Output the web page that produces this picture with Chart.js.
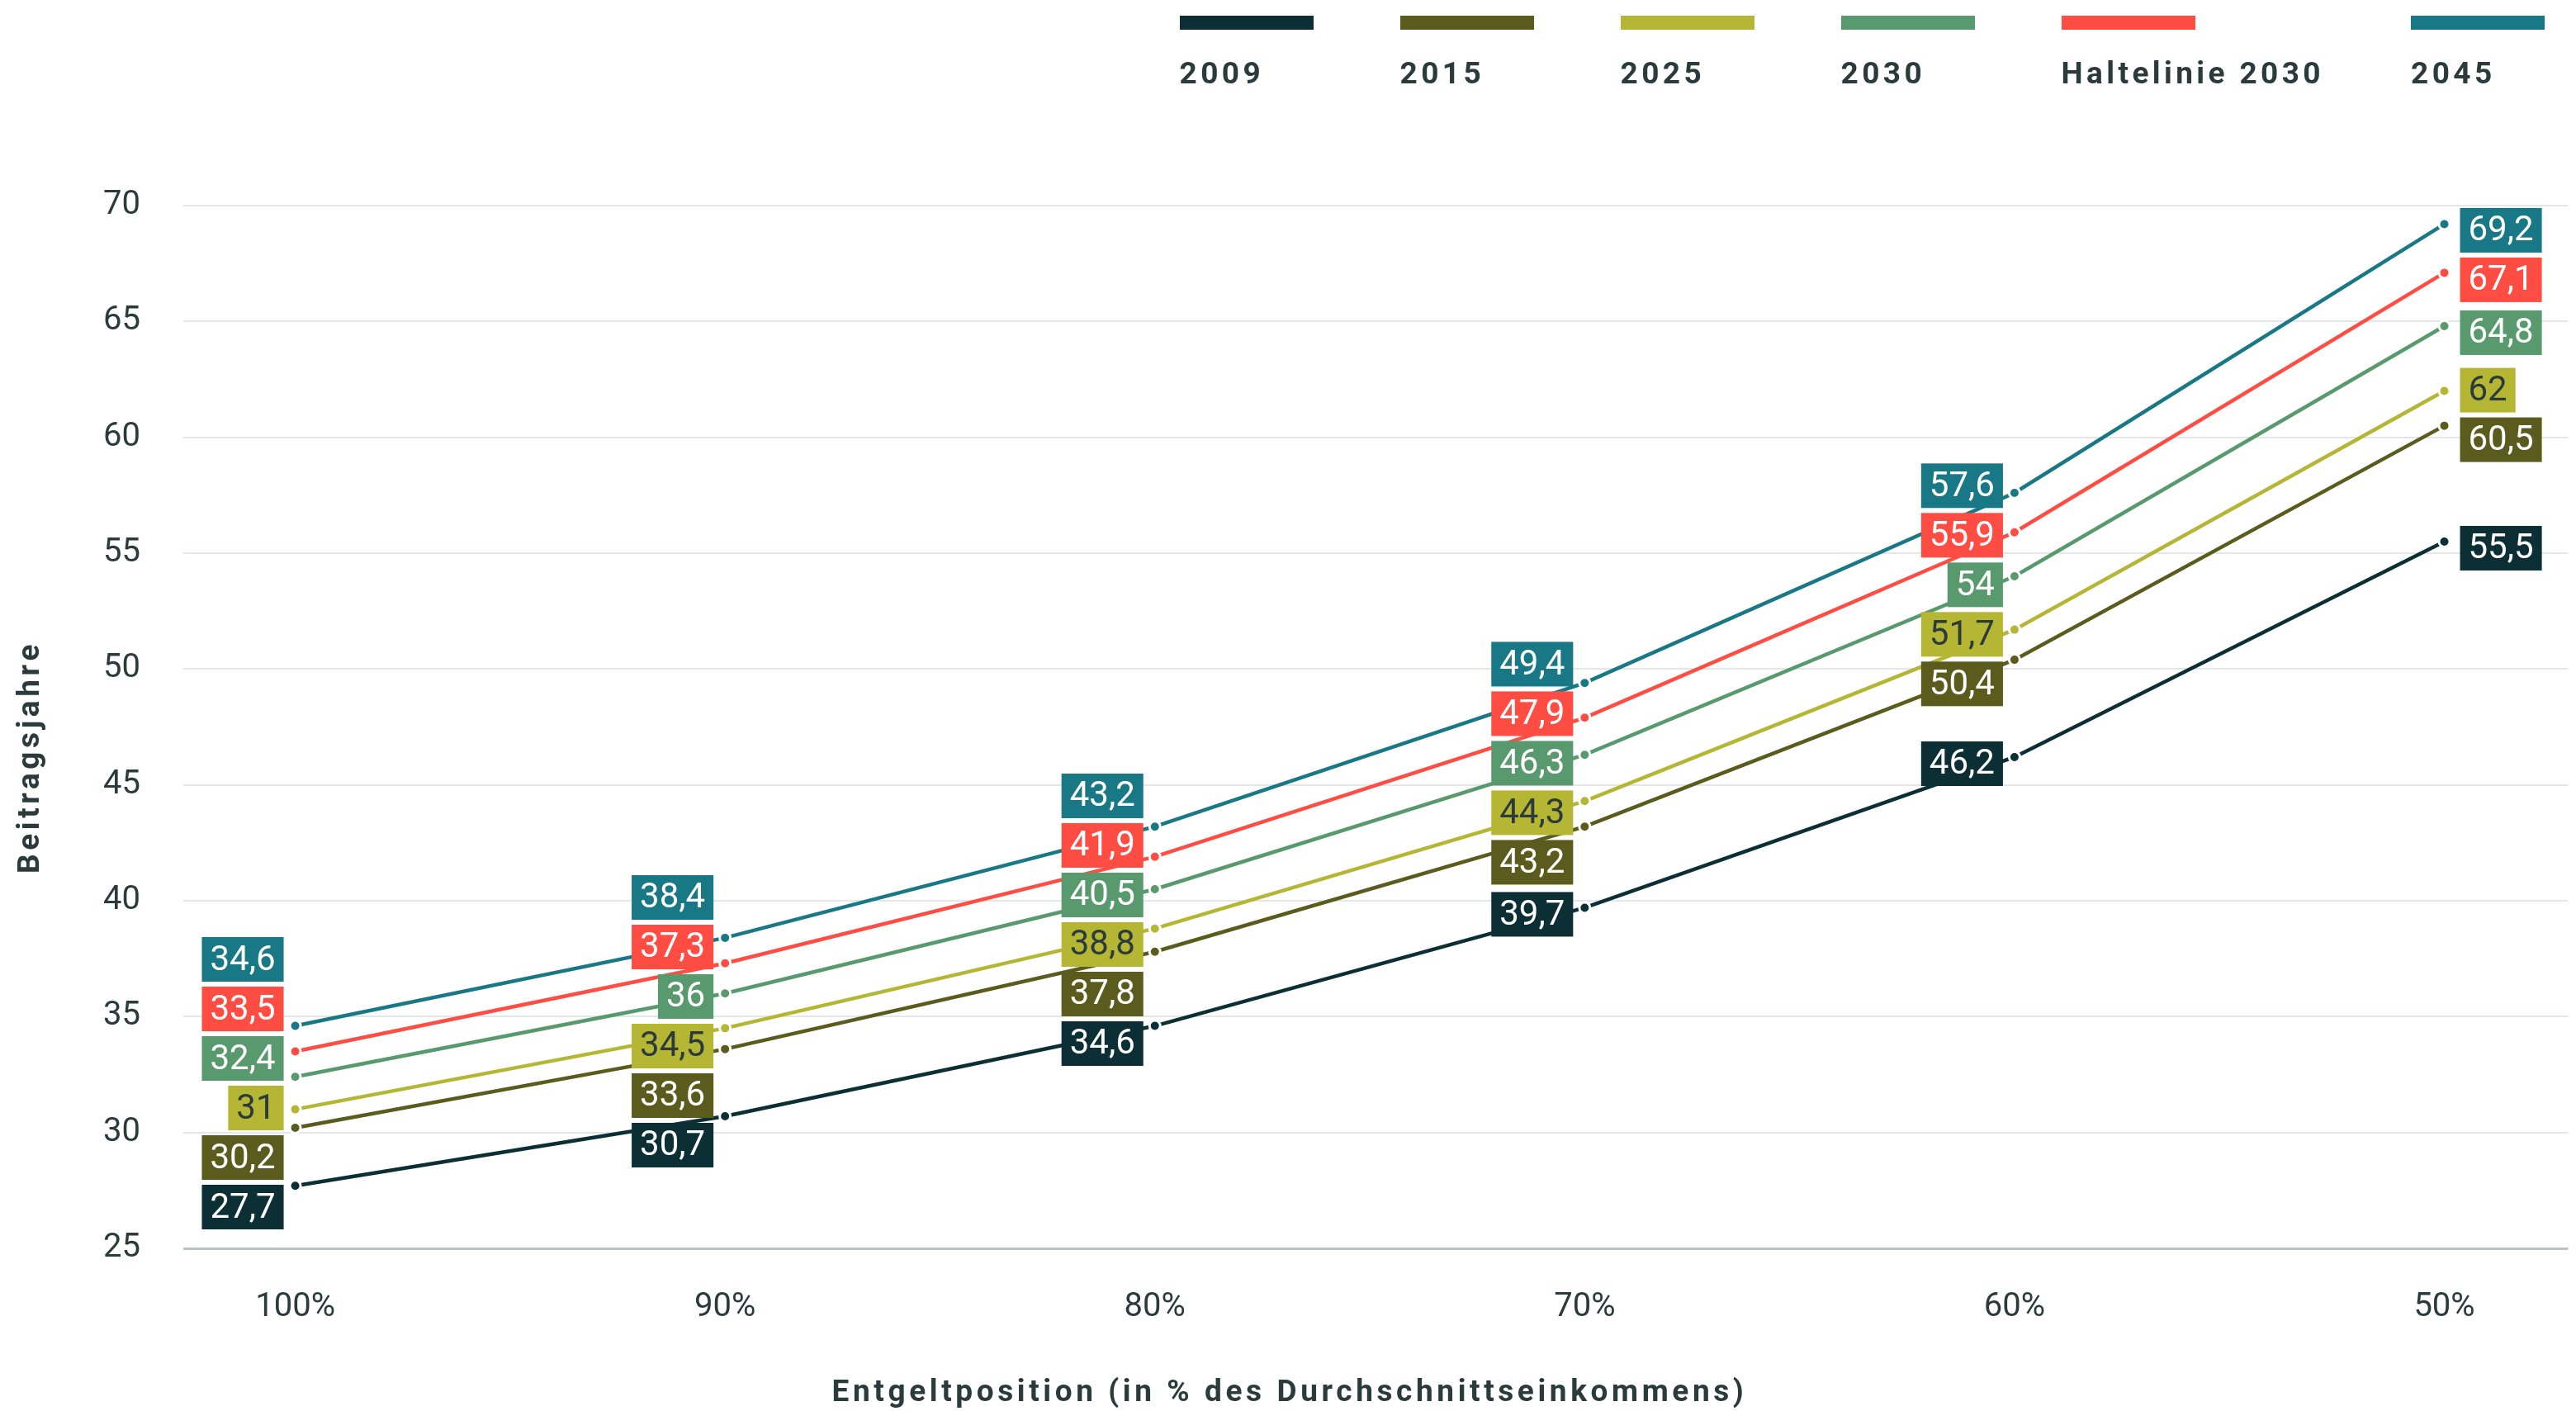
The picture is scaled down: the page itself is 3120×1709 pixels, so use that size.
<!DOCTYPE html>
<html><head><meta charset="utf-8">
<script src="https://cdn.jsdelivr.net/npm/chart.js@4"></script>
<style>
html,body{margin:0;padding:0;background:#fff;}
#wrap{position:relative;width:3120px;height:1709px;overflow:hidden;}
#c{position:absolute;left:0;top:0;}
#legend{position:absolute;top:19px;right:38px;display:flex;font-family:Roboto,sans-serif;font-weight:700;font-size:37px;letter-spacing:4.4px;color:#2b3a3a;}
.item{margin-left:105px;}
.item:first-child{margin-left:0}
.sw{height:17px;width:162px;}
.lb{margin-top:34px;line-height:1;white-space:nowrap;}
</style>
</head><body>
<div id="wrap">
<canvas id="c" width="3120" height="1709"></canvas>
<div id="legend"></div>
</div>
<script>
const categories = ['100%','90%','80%','70%','60%','50%'];
const seriesNames = ['2009','2015','2025','2030','Haltelinie 2030','2045'];
const v2009 = [27.7,30.7,34.6,39.7,46.2,55.5];
const v2015 = [30.2,33.6,37.8,43.2,50.4,60.5];
const v2025 = [31,34.5,38.8,44.3,51.7,62];
const v2030 = [32.4,36,40.5,46.3,54,64.8];
const vHalt = [33.5,37.3,41.9,47.9,55.9,67.1];
const v2045 = [34.6,38.4,43.2,49.4,57.6,69.2];
const yTicks = [25,30,35,40,45,50,55,60,65,70];
const seriesValues = [v2009,v2015,v2025,v2030,vHalt,v2045];
const seriesColors = ['#0b2f35','#5b5b1d','#b5b734','#589a6d','#ff4d44','#197885'];
const labelTextColors = ['#ffffff','#ffffff','#2b3a3a','#ffffff','#ffffff','#ffffff'];
const TXT = '#2b3a3a';

// legend
const lg = document.getElementById('legend');
seriesNames.forEach((n,i)=>{
  const it = document.createElement('div'); it.className='item';
  const sw = document.createElement('div'); sw.className='sw'; sw.style.background=seriesColors[i];
  const lb = document.createElement('div'); lb.className='lb'; lb.textContent=n;
  it.appendChild(sw); it.appendChild(lb); lg.appendChild(it);
});

const datasets = seriesNames.map((n,i)=>({
  label:n,
  data: seriesValues[i].map((v,k)=>({x:k,y:v})),
  borderColor: seriesColors[i],
  backgroundColor: seriesColors[i],
  borderWidth:4.5,
  pointRadius:6.5,
  pointBackgroundColor: seriesColors[i],
  pointBorderColor:'#ffffff',
  pointBorderWidth:3,
  tension:0,
  labelTextColor: labelTextColors[i]
}));

const fmt = v => String(v).replace('.',',');

const labelPlugin = {
  id:'valueLabels',
  afterDatasetsDraw(chart){
    const ctx = chart.ctx, xs = chart.scales.x, ys = chart.scales.y;
    ctx.save();
    ctx.font = '42px Roboto';
    const H = 54, STEP = 60, BIAS = 8;
    const maxCenter = chart.chartArea.bottom - 50;
    categories.forEach((c,i)=>{
      const items = chart.data.datasets.map((ds,di)=>({di, v: ds.data[i].y, py: ys.getPixelForValue(ds.data[i].y) + BIAS, px: xs.getPixelForValue(i)}));
      items.sort((a,b)=>a.py-b.py);
      let clusters = items.map(it=>({items:[it], center: it.py}));
      const fixBottom = cl => {
        const bottom = cl.center + (cl.items.length-1)*STEP/2;
        if (bottom > maxCenter) cl.center -= bottom - maxCenter;
      };
      clusters.forEach(fixBottom);
      let merged = true;
      while(merged){
        merged=false;
        for(let k=0;k<clusters.length-1;k++){
          const a=clusters[k], b=clusters[k+1];
          const aBottom = a.center + (a.items.length-1)*STEP/2;
          const bTop = b.center - (b.items.length-1)*STEP/2;
          if (bTop - aBottom < STEP){
            const all = a.items.concat(b.items);
            const center = all.reduce((s,it)=>s+it.py,0)/all.length;
            const cl = {items:all, center};
            fixBottom(cl);
            clusters.splice(k,2,cl);
            merged=true; break;
          }
        }
      }
      clusters.forEach(cl=>cl.items.forEach((it,j)=>{ it.ly = cl.center + (j-(cl.items.length-1)/2)*STEP; }));
      items.forEach(it=>{
        const ds = chart.data.datasets[it.di];
        const txt = fmt(it.v);
        const w = ctx.measureText(txt).width + 20;
        const leftSide = i < categories.length-1;
        const x0 = leftSide ? it.px - 14 - w : it.px + 19;
        ctx.fillStyle = ds.borderColor;
        ctx.fillRect(x0, it.ly - H/2, w, H);
        ctx.fillStyle = ds.labelTextColor;
        ctx.textAlign='center'; ctx.textBaseline='middle';
        ctx.fillText(txt, x0 + w/2, it.ly + 2);
      });
    });
    ctx.restore();
  }
};

const titlePlugin = {
  id:'axisTitles',
  afterDraw(chart){
    const ctx = chart.ctx;
    ctx.save();
    ctx.fillStyle = TXT;
    ctx.font = 'bold 37px Roboto';
    try { ctx.letterSpacing = '4.6px'; } catch(e) {}
    ctx.textAlign='center'; ctx.textBaseline='middle';
    ctx.fillText('Entgeltposition (in % des Durchschnittseinkommens)', 1562, 1688);
    ctx.translate(38, 917);
    ctx.rotate(-Math.PI/2);
    ctx.fillText('Beitragsjahre', 0, 0);
    ctx.restore();
  }
};

new Chart(document.getElementById('c'), {
  type:'line',
  data:{datasets},
  plugins:[labelPlugin,titlePlugin],
  options:{
    responsive:false,
    animation:false,
    layout:{padding:{top:249,right:0,left:0,bottom:0}},
    plugins:{legend:{display:false},tooltip:{enabled:false}},
    scales:{
      x:{
        type:'linear', min:-0.2604, max:5.2881,
        afterBuildTicks: s => { s.ticks = categories.map((_,i)=>({value:i})); },
        afterFit: s => { s.height = 197; },
        grid:{display:false, drawTicks:false},
        border:{display:false},
        ticks:{callback:(v)=>categories[v] ?? '', font:{family:'Roboto',size:40}, color:TXT, padding:48, maxRotation:0, autoSkip:false}
      },
      y:{
        min:25, max:70,
        afterBuildTicks: s => { s.ticks = yTicks.map(v=>({value:v})); },
        afterFit: s => { s.width = 222; },
        grid:{drawTicks:false, color: c => c.tick && c.tick.value===25 ? '#b7c2c2' : '#e3e7e7', lineWidth: c => c.tick && c.tick.value===25 ? 3 : 2},
        border:{display:false},
        ticks:{font:{family:'Roboto',size:40}, color:TXT, padding:52}
      }
    }
  }
});
</script>
</body></html>
